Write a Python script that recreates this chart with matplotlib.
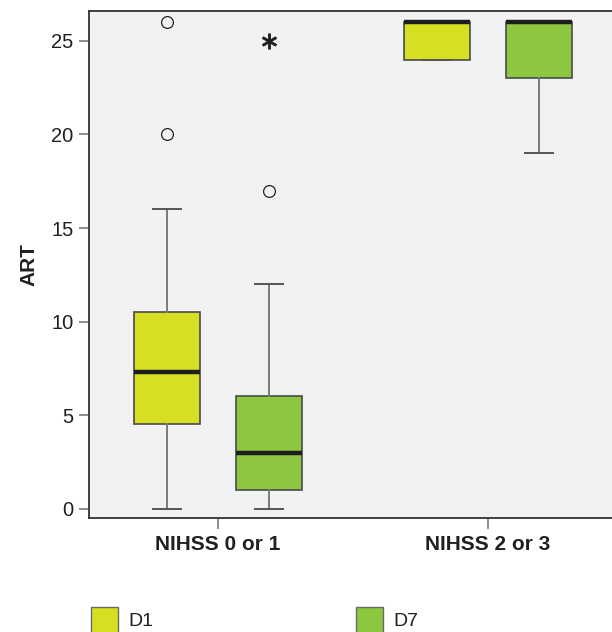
import matplotlib
matplotlib.use("Agg")
import matplotlib.pyplot as plt
from matplotlib.patches import Patch

plt.rcParams['font.family'] = ['Liberation Sans', 'DejaVu Sans']

categories = ["NIHSS 0 or 1", "NIHSS 2 or 3"]
series = ["D1", "D7"]
colors = {"D1": "#D7DF23", "D7": "#8DC63F"}

# box statistics per series, per category
d1_whislo = [0, 24]
d1_q1 = [4.5, 24]
d1_med = [7.3, 26]
d1_q3 = [10.5, 26]
d1_whishi = [16, 26]
d1_outliers = [[20, 26], []]
d1_extremes = [[], []]

d7_whislo = [0, 19]
d7_q1 = [1, 23]
d7_med = [3, 26]
d7_q3 = [6, 26]
d7_whishi = [12, 26]
d7_outliers = [[17], []]
d7_extremes = [[25], []]

yticks = [0, 5, 10, 15, 20, 25]

stats_src = {
    "D1": (d1_whislo, d1_q1, d1_med, d1_q3, d1_whishi, d1_outliers, d1_extremes),
    "D7": (d7_whislo, d7_q1, d7_med, d7_q3, d7_whishi, d7_outliers, d7_extremes),
}

W, H = 612, 632
fig = plt.figure(figsize=(W / 100, H / 100), dpi=100)
ax = fig.add_axes([89 / W, 1 - 518 / H, (617 - 89) / W, (518 - 11) / H])
ax.set_facecolor("#F1F2F4")

offsets = {"D1": -0.189, "D7": 0.189}
box_w = 0.245
for s in series:
    wl, q1, md, q3, wh, outl, ext = stats_src[s]
    stats = []
    for i in range(len(categories)):
        stats.append(dict(whislo=wl[i], q1=q1[i], med=md[i], q3=q3[i],
                          whishi=wh[i], fliers=outl[i]))
    pos = [i + offsets[s] for i in range(len(categories))]
    ax.bxp(stats, positions=pos, widths=box_w, patch_artist=True,
           showfliers=True, manage_ticks=False,
           boxprops=dict(facecolor=colors[s], edgecolor="#4a4a4a", linewidth=1.2),
           medianprops=dict(color="#1e1e1e", linewidth=3.2, solid_capstyle="butt"),
           whiskerprops=dict(color="#7a7a7a", linewidth=1.4),
           capprops=dict(color="#555555", linewidth=1.4),
           capwidths=0.107,
           flierprops=dict(marker="o", markerfacecolor="none",
                           markeredgecolor="#222222", markersize=8.5,
                           markeredgewidth=0.9, linestyle="none"))
    for i in range(len(categories)):
        if ext[i]:
            ax.plot([i + offsets[s]] * len(ext[i]), ext[i], linestyle="none",
                    marker=r"$\ast$", markersize=11, color="#1e1e1e",
                    markeredgewidth=0.6)

ax.set_xlim(-0.478, 1.478)
ax.set_ylim(-0.5, 26.6)
ax.set_xticks(range(len(categories)))
ax.set_xticklabels(categories, fontsize=15, fontweight="bold", color="#231f20")
ax.set_yticks(yticks)
ax.set_yticklabels([str(t) for t in yticks], fontsize=14.5, color="#231f20")
ax.tick_params(axis="y", direction="out", length=7, width=1.2, color="#7a7a7a", pad=4)
ax.tick_params(axis="x", direction="out", length=8, width=1.2, color="#7a7a7a", pad=4)
ax.set_ylabel("ART", fontsize=15, fontweight="bold", color="#231f20", labelpad=9)

for sp in ["left", "bottom", "top"]:
    ax.spines[sp].set_color("#333333")
    ax.spines[sp].set_linewidth(1.3)
ax.spines["right"].set_visible(False)

handles = [Patch(facecolor=colors[s], edgecolor="#6a6a6a", linewidth=1.0, label=s) for s in series]
fs = 14
fspx = fs * 100 / 72
fig.legend(handles=handles, loc="upper left", ncol=2, frameon=False,
           bbox_to_anchor=(90.6 / W, 1 - 607 / H), borderaxespad=0, borderpad=0,
           handlelength=27 / fspx, handleheight=32 / fspx, handletextpad=11 / fspx,
           columnspacing=202 / fspx, fontsize=fs, labelcolor="#231f20")

fig.savefig("out.png", dpi=100)
